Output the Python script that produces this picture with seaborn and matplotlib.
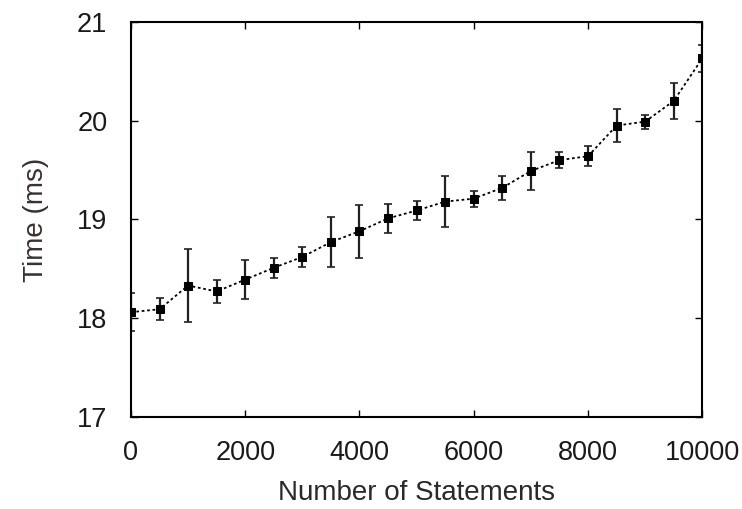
import seaborn as sns
import matplotlib.pyplot as plt
import pandas as pd

# valores
statements = [0, 500, 1000, 1500, 2000, 2500, 3000, 3500, 4000, 4500, 5000,
              5500, 6000, 6500, 7000, 7500, 8000, 8500, 9000, 9500, 10000]
time_ms = [18.06, 18.09, 18.33, 18.27, 18.39, 18.51, 18.62, 18.77, 18.88, 19.01, 19.09,
           19.18, 19.21, 19.32, 19.49, 19.60, 19.64, 19.95, 19.99, 20.20, 20.63]
err = [0.19, 0.11, 0.37, 0.12, 0.20, 0.10, 0.10, 0.25, 0.27, 0.15, 0.10,
       0.26, 0.08, 0.12, 0.19, 0.08, 0.10, 0.17, 0.07, 0.18, 0.14]

datos = pd.DataFrame({"statements": statements, "time": time_ms, "err": err})

sns.set_style("ticks")
plt.rcParams['font.family'] = ['Liberation Sans', 'DejaVu Sans']

fig = plt.figure(figsize=(7.42, 5.09), dpi=100)
ax = fig.add_axes([0.1765, 0.181, 0.77, 0.776])

ax.errorbar(datos["statements"], datos["time"], yerr=datos["err"], fmt="none",
            ecolor="#222222", elinewidth=1.6, capsize=3, capthick=1.2, zorder=2)
sns.lineplot(data=datos, x="statements", y="time", ax=ax, color="black",
             linestyle=(0, (1.5, 1.5)), linewidth=1.3, marker="s", markersize=5.5,
             markeredgecolor="black", zorder=3)

ax.set_xlim(0, 10000)
ax.set_ylim(17, 21)
ax.set_xticks([0, 2000, 4000, 6000, 8000, 10000])
ax.set_yticks([17, 18, 19, 20, 21])
ax.tick_params(direction="in", top=True, right=True, length=5, width=1,
               labelsize=19.5, pad=17, colors="black", labelcolor="#1a1a1a")
for s in ax.spines.values():
    s.set_visible(True)
    s.set_linewidth(1.5)
    s.set_color("black")

ax.set_xlabel("Number of Statements", fontsize=20, color="#2a2a2a", labelpad=10)
ax.set_ylabel("Time (ms)", fontsize=20, color="#3a3030", labelpad=20)

plt.savefig("out.png", dpi=100)
